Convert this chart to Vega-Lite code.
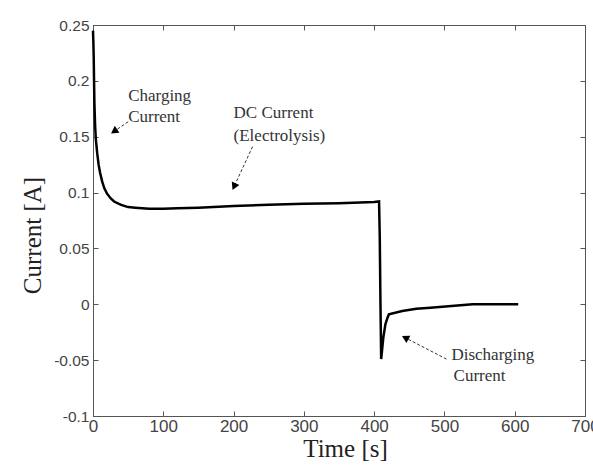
{
  "$schema": "https://vega.github.io/schema/vega-lite/v6.json",
  "width": 492,
  "height": 391,
  "autosize": {"type": "none"},
  "padding": {"left": 93, "top": 25, "right": 8, "bottom": 59},
  "background": "white",
  "config": {
    "view": {"stroke": "#555", "strokeWidth": 1},
    "axis": {
      "grid": false,
      "domainColor": "#555",
      "tickColor": "#555",
      "tickSize": -5,
      "labelFont": "Liberation Sans",
      "labelFontSize": 16,
      "labelColor": "#444",
      "titleFont": "Liberation Serif",
      "titleFontSize": 25,
      "titleFontWeight": "normal",
      "titleColor": "#222"
    }
  },
  "datasets": {
    "curve": [
      {"t": 0, "I": 0.245},
      {"t": 0.5, "I": 0.235},
      {"t": 1, "I": 0.222},
      {"t": 1.5, "I": 0.2},
      {"t": 2, "I": 0.18},
      {"t": 3, "I": 0.16},
      {"t": 4, "I": 0.148},
      {"t": 6, "I": 0.135},
      {"t": 8, "I": 0.125},
      {"t": 10, "I": 0.118},
      {"t": 13, "I": 0.11},
      {"t": 16, "I": 0.104},
      {"t": 20, "I": 0.099},
      {"t": 25, "I": 0.095},
      {"t": 30, "I": 0.092},
      {"t": 40, "I": 0.089},
      {"t": 50, "I": 0.087},
      {"t": 60, "I": 0.0865},
      {"t": 80, "I": 0.0855},
      {"t": 100, "I": 0.0855},
      {"t": 120, "I": 0.086},
      {"t": 150, "I": 0.0865},
      {"t": 200, "I": 0.088},
      {"t": 250, "I": 0.089},
      {"t": 300, "I": 0.09},
      {"t": 350, "I": 0.0905},
      {"t": 400, "I": 0.0915},
      {"t": 407, "I": 0.092},
      {"t": 408, "I": 0.06},
      {"t": 409, "I": 0.0},
      {"t": 410, "I": -0.049},
      {"t": 413, "I": -0.03},
      {"t": 416, "I": -0.018},
      {"t": 419, "I": -0.012},
      {"t": 421, "I": -0.009},
      {"t": 440, "I": -0.006},
      {"t": 460, "I": -0.004},
      {"t": 480, "I": -0.003},
      {"t": 510, "I": -0.0015},
      {"t": 540, "I": 0},
      {"t": 570, "I": 0},
      {"t": 605, "I": 0}
    ],
    "arrows": [
      {"name": "charging", "t": 50, "I": 0.1634, "t2": 31.4, "I2": 0.1554},
      {"name": "dc", "t": 227, "I": 0.1411, "t2": 201.4, "I2": 0.1063},
      {"name": "discharging", "t": 502.9, "I": -0.0491, "t2": 445.7, "I2": -0.0304}
    ],
    "labels": [
      {"text": "Charging", "t": 50, "I": 0.1866},
      {"text": "Current", "t": 50, "I": 0.1679},
      {"text": "DC Current", "t": 200, "I": 0.1714},
      {"text": "(Electrolysis)", "t": 200, "I": 0.1509},
      {"text": "Discharging", "t": 510, "I": -0.0455},
      {"text": "Current", "t": 513, "I": -0.0643}
    ]
  },
  "resolve": {"axis": {"x": "independent", "y": "independent"}},
  "layer": [
    {
      "data": {"name": "curve"},
      "mark": {"type": "line", "color": "#000", "strokeWidth": 2.5, "interpolate": "linear"},
      "encoding": {
        "x": {
          "field": "t", "type": "quantitative",
          "scale": {"domain": [0, 700], "nice": false, "zero": false},
          "axis": {"orient": "bottom", "values": [0, 100, 200, 300, 400, 500, 600, 700], "title": "Time [s]", "labelFontSize": 17, "labelPadding": 7, "titlePadding": 2, "titleX": 252, "labelFlush": false}
        },
        "y": {
          "field": "I", "type": "quantitative",
          "scale": {"domain": [-0.1, 0.25], "nice": false, "zero": false},
          "axis": {"orient": "left", "values": [-0.1, -0.05, 0, 0.05, 0.1, 0.15, 0.2, 0.25], "labelExpr": "'' + datum.value", "title": "Current [A]", "labelFontSize": 15.5, "labelPadding": 9, "titlePadding": 8, "titleY": 210, "labelFlush": false}
        }
      }
    },
    {
      "data": {"name": "arrows"},
      "mark": {"type": "rule", "color": "#333", "strokeWidth": 1, "strokeDash": [3, 2]},
      "encoding": {
        "x": {"field": "t", "type": "quantitative", "axis": {"orient": "top", "values": [0, 100, 200, 300, 400, 500, 600, 700], "labels": false, "title": null, "domain": false}},
        "y": {"field": "I", "type": "quantitative", "axis": {"orient": "right", "values": [-0.1, -0.05, 0, 0.05, 0.1, 0.15, 0.2, 0.25], "labels": false, "title": null, "domain": false}},
        "x2": {"field": "t2"},
        "y2": {"field": "I2"}
      }
    },
    {
      "data": {"name": "arrows"},
      "transform": [{"filter": "datum.name === 'charging'"}],
      "mark": {"type": "point", "shape": "triangle", "filled": true, "color": "#000", "size": 70, "angle": 236, "opacity": 1},
      "encoding": {
        "x": {"field": "t2", "type": "quantitative", "axis": null},
        "y": {"field": "I2", "type": "quantitative", "axis": null}
      }
    },
    {
      "data": {"name": "arrows"},
      "transform": [{"filter": "datum.name === 'dc'"}],
      "mark": {"type": "point", "shape": "triangle", "filled": true, "color": "#000", "size": 70, "angle": 205, "opacity": 1},
      "encoding": {
        "x": {"field": "t2", "type": "quantitative", "axis": null},
        "y": {"field": "I2", "type": "quantitative", "axis": null}
      }
    },
    {
      "data": {"name": "arrows"},
      "transform": [{"filter": "datum.name === 'discharging'"}],
      "mark": {"type": "point", "shape": "triangle", "filled": true, "color": "#000", "size": 70, "angle": 298, "opacity": 1},
      "encoding": {
        "x": {"field": "t2", "type": "quantitative", "axis": null},
        "y": {"field": "I2", "type": "quantitative", "axis": null}
      }
    },
    {
      "data": {"name": "labels"},
      "mark": {"type": "text", "align": "left", "baseline": "middle", "font": "Liberation Serif", "fontSize": 17, "color": "#333"},
      "encoding": {
        "x": {"field": "t", "type": "quantitative", "axis": null},
        "y": {"field": "I", "type": "quantitative", "axis": null},
        "text": {"field": "text"}
      }
    }
  ]
}
